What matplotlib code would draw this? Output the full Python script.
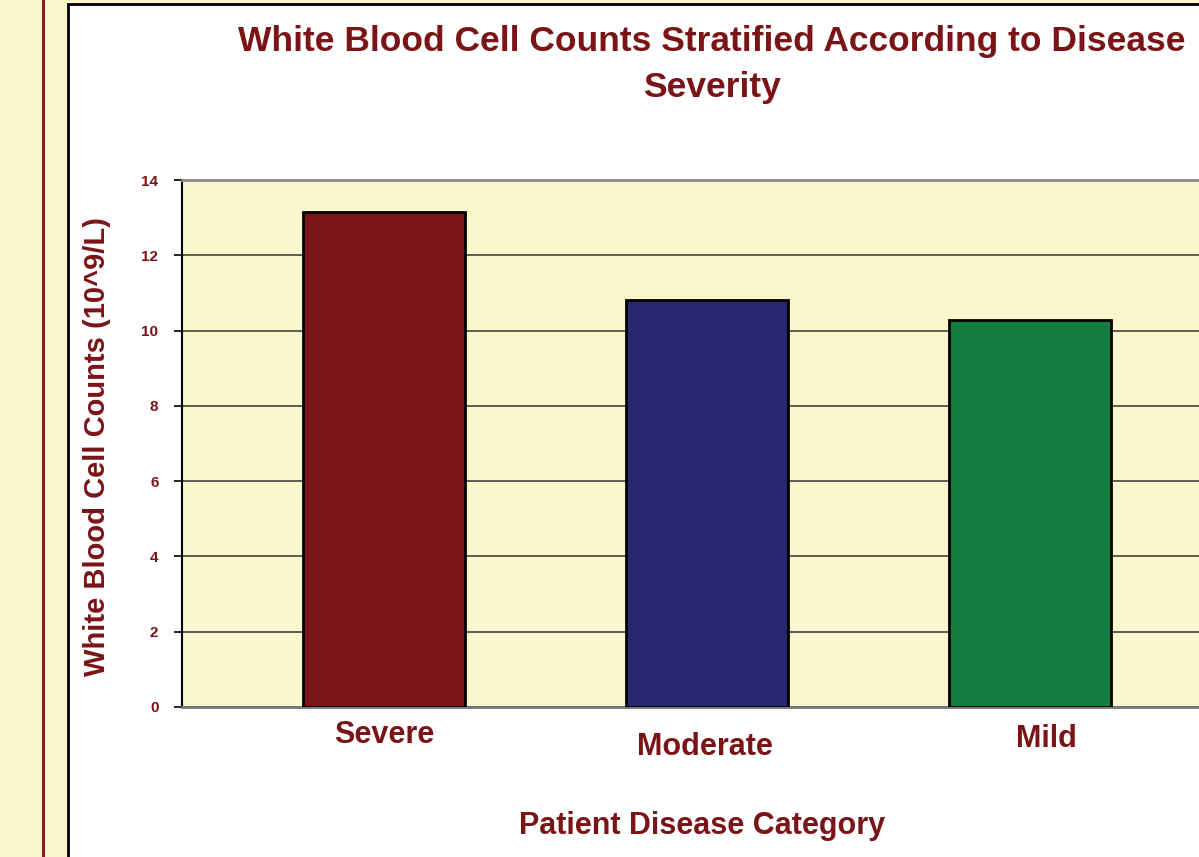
import matplotlib.pyplot as plt
from matplotlib.patches import Rectangle

# Datos: conteo medio de leucocitos por gravedad
categories = ["Severe", "Moderate", "Mild"]
wbc_counts = [13.16, 10.81, 10.28]
bar_colors = ["#7B1416", "#26276E", "#137C3E"]
y_ticks = [0, 2, 4, 6, 8, 10, 12, 14]

# desplazamiento (px) de cada etiqueta de categoria
label_dy = [-28, -40, -32]
label_dx = [0, -2, 16]

text_color = "#7B1416"
plt.rcParams['font.family'] = ['Liberation Sans', 'DejaVu Sans']

fig = plt.figure(figsize=(11.99, 8.57), dpi=100)
fig.patch.set_facecolor("#FAF7CE")

# linea roja vertical y panel blanco
W, H = 1199, 857
fig.add_artist(plt.Line2D([43 / W, 43 / W], [0, 1], color="#8B1A1E", lw=2.2, zorder=-2))
fig.add_artist(Rectangle((68 / W, -0.1), 1.2, (857 - 4) / H + 0.1, facecolor="white",
                         edgecolor="black", lw=2, zorder=-1))

ax = fig.add_axes([182 / W, (H - 707) / H, (1232 - 182) / W, (707 - 180) / H])
ax.set_zorder(2)
ax.set_facecolor("#FAF6CE")

x = range(len(categories))
ax.bar(x, wbc_counts, width=0.5, color=bar_colors, edgecolor="black", linewidth=2, zorder=3)

ax.set_xlim(-0.625, 2.625)
ax.set_ylim(0, 14)
ax.set_yticks(y_ticks)
ax.set_yticklabels([str(t) for t in y_ticks], fontsize=11, fontweight="bold", color=text_color)
ax.tick_params(axis="y", direction="out", length=6, width=1.2, color="black", pad=11)
ax.set_xticks([])
ax.yaxis.grid(True, color="#5C5C50", linewidth=1.4, zorder=1)
ax.set_axisbelow(True)

ax.spines["right"].set_visible(False)
ax.spines["top"].set_color("#888888")
ax.spines["top"].set_linewidth(2)
ax.spines["left"].set_color("black")
ax.spines["left"].set_linewidth(1.5)
ax.spines["bottom"].set_color("#777777")
ax.spines["bottom"].set_linewidth(2)

# etiquetas de categoria escalonadas
for i, name in enumerate(categories):
    ax.annotate(name, xy=(i, 0), xytext=(label_dx[i], label_dy[i]), textcoords="offset pixels",
                ha="center", va="center", fontsize=22, fontweight="bold", color=text_color,
                annotation_clip=False)

fig.text(712 / W, 1 - 64 / H, "White Blood Cell Counts Stratified According to Disease\nSeverity",
         ha="center", va="center", fontsize=25.5, fontweight="bold", color=text_color,
         linespacing=1.5)
fig.text(97 / W, 1 - 446 / H, "White Blood Cell Counts (10^9/L)", rotation=90,
         ha="center", va="center", fontsize=21, fontweight="bold", color=text_color)
fig.text(702 / W, 1 - 826 / H, "Patient Disease Category",
         ha="center", va="center", fontsize=22, fontweight="bold", color=text_color)

plt.savefig("out.png", dpi=100, facecolor=fig.get_facecolor())
